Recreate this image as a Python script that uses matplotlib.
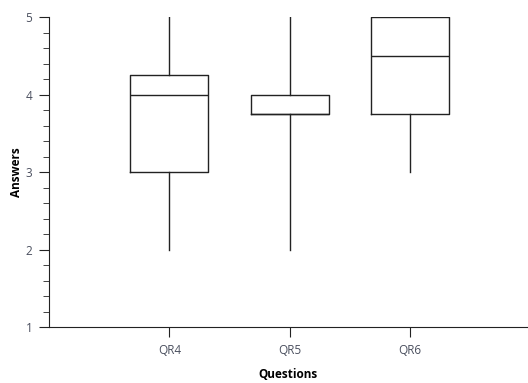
import matplotlib
matplotlib.use("Agg")
import matplotlib.pyplot as plt
from matplotlib.ticker import MultipleLocator

plt.rcParams['font.family'] = ['Open Sans', 'DejaVu Sans']

categories = ["QR4", "QR5", "QR6"]
whislo = [2, 2, 3]
q1 = [3, 3.75, 3.75]
med = [4, 3.75, 4.5]
q3 = [4.25, 4, 5]
whishi = [5, 5, 5]

stats = [dict(label=c, whislo=a, q1=b, med=m, q3=d, whishi=e, fliers=[])
         for c, a, b, m, d, e in zip(categories, whislo, q1, med, q3, whishi)]

fig = plt.figure(figsize=(5.28, 3.83), dpi=100)
ax = fig.add_axes([0.0928, 0.1462, 0.9072, 0.8094])

lp = dict(color='#222222', linewidth=1.0)
ax.bxp(stats, positions=[1, 2, 3], widths=0.65, showfliers=False,
       boxprops=lp, whiskerprops=lp, capprops=dict(linewidth=0),
       medianprops=lp, showcaps=False)

ax.set_xlim(0, 3.98)
ax.set_ylim(1, 5)
ax.yaxis.set_major_locator(MultipleLocator(1))
ax.yaxis.set_minor_locator(MultipleLocator(0.2))
ax.set_xticks([1, 2, 3])
ax.set_xticklabels(categories)
for s in ['top', 'right']:
    ax.spines[s].set_visible(False)
for s in ['left', 'bottom']:
    ax.spines[s].set_color('#222222')
ax.tick_params(axis='both', which='major', length=7, color='#222222', labelcolor='#4a4f5e', labelsize=8.5)
ax.tick_params(axis='x', which='major', pad=5)
ax.tick_params(axis='y', which='major', pad=5)
ax.tick_params(axis='y', which='minor', length=4.5, color='#222222')
ax.set_xlabel("Questions", fontsize=8.5, fontweight='bold', labelpad=8)
ax.set_ylabel("Answers", fontsize=8.5, fontweight='bold', labelpad=2)

fig.savefig("out.png", dpi=100)
